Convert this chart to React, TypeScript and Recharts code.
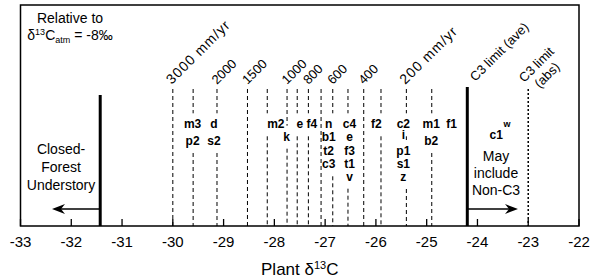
import React from 'react';
import { ComposedChart, XAxis, YAxis, ReferenceLine, ReferenceDot, ReferenceArea } from 'recharts';

// ---------------- data ----------------
const xTicks: number[] = [-33, -32, -31, -30, -29, -28, -27, -26, -25, -24, -23, -22];

// dashed precipitation isolines (plant d13C)
const precipD13C: number[] = [-30, -29.6, -29.13, -28.53, -28.14, -27.75, -27.55, -27.33, -27.08, -26.85, -26.55, -26.24, -25.9, -25.4, -24.9];
const precipLabel: string[] = ['3000 mm/yr', '', '2000', '1500', '', '1000', '', '800', '', '600', '', '400', '', '200 mm/yr', ''];

// site codes and their plant d13C
const siteLabels: string[] = ['m3', 'p2', 'd', 's2', 'm2', 'k', 'e', 'f4', 'n', 'b1', 't2', 'c3', 'c4', 'e', 'f3', 't1', 'v', 'f2', 'c2', 'i', 'p1', 's1', 'z', 'm1', 'b2', 'f1', 'c1'];
const siteD13C: number[] = [-29.61, -29.61, -29.19, -29.19, -27.97, -27.76, -27.5, -27.26, -26.93, -26.93, -26.93, -26.93, -26.52, -26.52, -26.52, -26.52, -26.52, -25.99, -25.46, -25.46, -25.46, -25.46, -25.46, -24.91, -24.91, -24.51, -23.63];
const superLabel = 'w';
const superD13C = -23.42;

const closedForestLimit = -31.43;
const c3LimitAve = -24.2;
const c3LimitAbs = -23;

// ---------------- layout ----------------
const W = 590;
const H = 278;
const PLOT_LEFT = 20.5;
const PLOT_RIGHT = 579;
const PLOT_TOP = 5;
const PLOT_BOTTOM = 226;
const PLOT_H = PLOT_BOTTOM - PLOT_TOP;
const PX_PER_UNIT = (PLOT_RIGHT - PLOT_LEFT) / 11;
const FONT = '"Liberation Sans", Arial, Helvetica, sans-serif';
const py = (pixelY: number) => pixelY - PLOT_TOP; // pixel row -> y value (reversed axis)

// vertical stacking offsets of the site codes (px from first baseline)
const siteRowDy: number[] = [0, 16.7, 0, 16.7, 0, 12.4, 0, 0, 0, 12.6, 26.7, 40, 0, 12.6, 26.7, 40, 52.4, 0, 0, 11, 26.7, 39.4, 52.7, 0, 16.7, 0, 10.7];
const ROW0 = 128.3;
const LINE_TOP = 89;

const BOLD_W: Record<string, number> = { a: .556, b: .611, c: .556, d: .611, e: .556, f: .333, i: .278, k: .556, m: .889, n: .611, p: .611, s: .556, t: .333, v: .556, w: .778, z: .5 };
const textW = (s: string, fs: number) => s.split('').reduce((a, ch) => a + (BOLD_W[ch] ?? .556), 0) * fs;

function lineSegments(xv: number): [number, number][] {
  const gaps: [number, number][] = [];
  siteLabels.forEach((lab, i) => {
    const half = (textW(lab, 12) / 2 + 0.5) / PX_PER_UNIT;
    if (Math.abs(xv - siteD13C[i]) <= half) {
      const base = ROW0 + siteRowDy[i];
      gaps.push([base - 15, base + 8]);
    }
  });
  gaps.sort((a, b) => a[0] - b[0]);
  const merged: [number, number][] = [];
  gaps.forEach((g) => {
    const last = merged[merged.length - 1];
    if (last && g[0] <= last[1]) last[1] = Math.max(last[1], g[1]);
    else merged.push([g[0], g[1]]);
  });
  const segs: [number, number][] = [];
  let start = LINE_TOP;
  merged.forEach((g) => {
    segs.push([start, g[0]]);
    start = g[1];
  });
  segs.push([start, PLOT_BOTTOM]);
  return segs;
}

const Tick = (props: any) => {
  const { x, y, payload } = props;
  return (
    <g>
      <line x1={x} x2={x} y1={y - 7} y2={y} stroke="#000" strokeWidth={1.3} />
      <text x={x} y={y + 21} textAnchor="middle" fontSize={15} fontFamily={FONT} fill="#000">{String(payload.value)}</text>
    </g>
  );
};

const RotLabel = (text: string, dx: number, dy: number, size = 13, spacing = 0) => (p: any) => (
  <g transform={`translate(${p.cx + dx},${p.cy + dy}) rotate(-45)`}>
    <text x={0} y={0} fontSize={size} fontFamily={FONT} fill="#000" letterSpacing={spacing} style={{ whiteSpace: 'pre' }}>{text}</text>
  </g>
);

const C3AbsLabel = (p: any) => (
  <g transform={`translate(${p.cx - 4},${p.cy - 6}) rotate(-45)`}>
    <text x={21.7} y={0} textAnchor="middle" fontSize={13} fontFamily={FONT} fill="#000">C3 limit</text>
    <text x={21.7} y={15} textAnchor="middle" fontSize={13} fontFamily={FONT} fill="#000">(abs)</text>
  </g>
);

const SiteText = (lab: string, size: number) => (p: any) => (
  <text x={p.cx} y={p.cy} textAnchor="middle" fontSize={size} fontWeight="bold" fontFamily={FONT} fill="#000">{lab}</text>
);

const MultiText = (lines: string[], gap: number) => (p: any) => (
  <text textAnchor="middle" fontSize={14} fontFamily={FONT} fill="#000">
    {lines.map((l, i) => (
      <tspan key={i} x={p.cx} y={p.cy + i * gap}>{l}</tspan>
    ))}
  </text>
);

const RelativeText = (p: any) => (
  <g>
    <text x={p.cx} y={p.cy} textAnchor="middle" fontSize={14} fontFamily={FONT} fill="#000">Relative to</text>
    <text x={p.cx} y={p.cy + 17} textAnchor="middle" fontSize={14} fontFamily={FONT} fill="#000">
      δ<tspan fontSize={9} dy={-5}>13</tspan><tspan dy={5}>C</tspan><tspan fontSize={9} dy={3}>atm</tspan><tspan dy={-3}> = -8‰</tspan>
    </text>
  </g>
);

const TitleText = (p: any) => (
  <text x={p.cx} y={p.cy} textAnchor="middle" fontSize={17} fontFamily={FONT} fill="#000">
    Plant δ<tspan fontSize={11} dy={-6}>13</tspan><tspan dy={6}>C</tspan>
  </text>
);

const ArrowHead = (dir: number) => (p: any) => {
  const { cx, cy } = p;
  const pts = [[0, 0], [13, -5], [9, 0], [13, 5]].map(([a, b]) => `${cx + dir * a},${cy + b}`).join(' ');
  return <polygon points={pts} fill="#000" />;
};

export default function App() {
  const data = xTicks.map((v) => ({ x: v }));
  const pxToX = (px: number) => (px - PLOT_LEFT) / PX_PER_UNIT - 33;
  const arrowY = py(209);
  return (
    <div style={{ position: 'absolute', left: 0, top: 0, width: W, height: H, background: '#fff' }}>
      <ComposedChart width={W} height={H} data={data} margin={{ top: PLOT_TOP, right: W - PLOT_RIGHT, bottom: 0, left: PLOT_LEFT }}>
        <XAxis dataKey="x" type="number" domain={[-33, -22]} ticks={xTicks} interval={0} height={H - PLOT_BOTTOM}
          axisLine={false} tickLine={false} tickSize={0} tickMargin={0} tick={<Tick />} allowDataOverflow />
        <YAxis type="number" domain={[0, PLOT_H]} reversed hide width={0} allowDataOverflow />

        <ReferenceArea x1={-33} x2={-22} y1={0} y2={PLOT_H} fill="none" stroke="#000" strokeWidth={1.5} fillOpacity={0} ifOverflow="visible" />

        {precipD13C.map((xv, i) =>
          lineSegments(xv).map(([a, b], j) => (
            <ReferenceLine key={`l${i}-${j}`} segment={[{ x: xv, y: py(a) }, { x: xv, y: py(b) }]} stroke="#000" strokeWidth={1} strokeDasharray="4 3" />
          ))
        )}

        <ReferenceLine segment={[{ x: closedForestLimit, y: py(95) }, { x: closedForestLimit, y: PLOT_H }]} stroke="#000" strokeWidth={3} />
        <ReferenceLine segment={[{ x: c3LimitAve, y: py(87) }, { x: c3LimitAve, y: PLOT_H }]} stroke="#000" strokeWidth={3} />
        <ReferenceLine segment={[{ x: c3LimitAbs, y: py(89) }, { x: c3LimitAbs, y: PLOT_H }]} stroke="#000" strokeWidth={1.5} strokeDasharray="2 2" />

        {/* arrows */}
        <ReferenceLine segment={[{ x: closedForestLimit, y: arrowY }, { x: pxToX(60), y: arrowY }]} stroke="#000" strokeWidth={1.5} />
        <ReferenceDot x={pxToX(52)} y={arrowY} shape={ArrowHead(1)} />
        <ReferenceLine segment={[{ x: c3LimitAve, y: arrowY }, { x: pxToX(510), y: arrowY }]} stroke="#000" strokeWidth={1.5} />
        <ReferenceDot x={pxToX(518)} y={arrowY} shape={ArrowHead(-1)} />

        {/* rotated precipitation labels */}
        {precipD13C.map((xv, i) =>
          precipLabel[i] ? (
            <ReferenceDot key={`p${i}`} x={xv} y={py(LINE_TOP)}
              shape={precipLabel[i].includes('mm')
                ? RotLabel(precipLabel[i], -1, -4, 14, 1)
                : RotLabel(precipLabel[i], 0, -4)} />
          ) : null
        )}
        <ReferenceDot x={c3LimitAve} y={py(87)} shape={RotLabel('C3 limit (ave)', 8, -5)} />
        <ReferenceDot x={c3LimitAbs} y={py(89)} shape={C3AbsLabel} />

        {/* site codes */}
        {siteLabels.map((lab, i) => (
          <ReferenceDot key={`s${i}`} x={siteD13C[i]} y={py(ROW0 + siteRowDy[i])} shape={SiteText(lab, 12)} />
        ))}
        <ReferenceDot x={superD13C} y={py(ROW0 - 1)} shape={SiteText(superLabel, 9)} />

        {/* annotations */}
        <ReferenceDot x={pxToX(61)} y={py(154)} shape={MultiText(['Closed-', 'Forest', 'Understory'], 18)} />
        <ReferenceDot x={pxToX(496)} y={py(161)} shape={MultiText(['May', 'include', 'Non-C3'], 17)} />
        <ReferenceDot x={pxToX(70)} y={py(23)} shape={RelativeText} />
        <ReferenceDot x={-27.5} y={py(275)} shape={TitleText} ifOverflow="visible" />
      </ComposedChart>
    </div>
  );
}
